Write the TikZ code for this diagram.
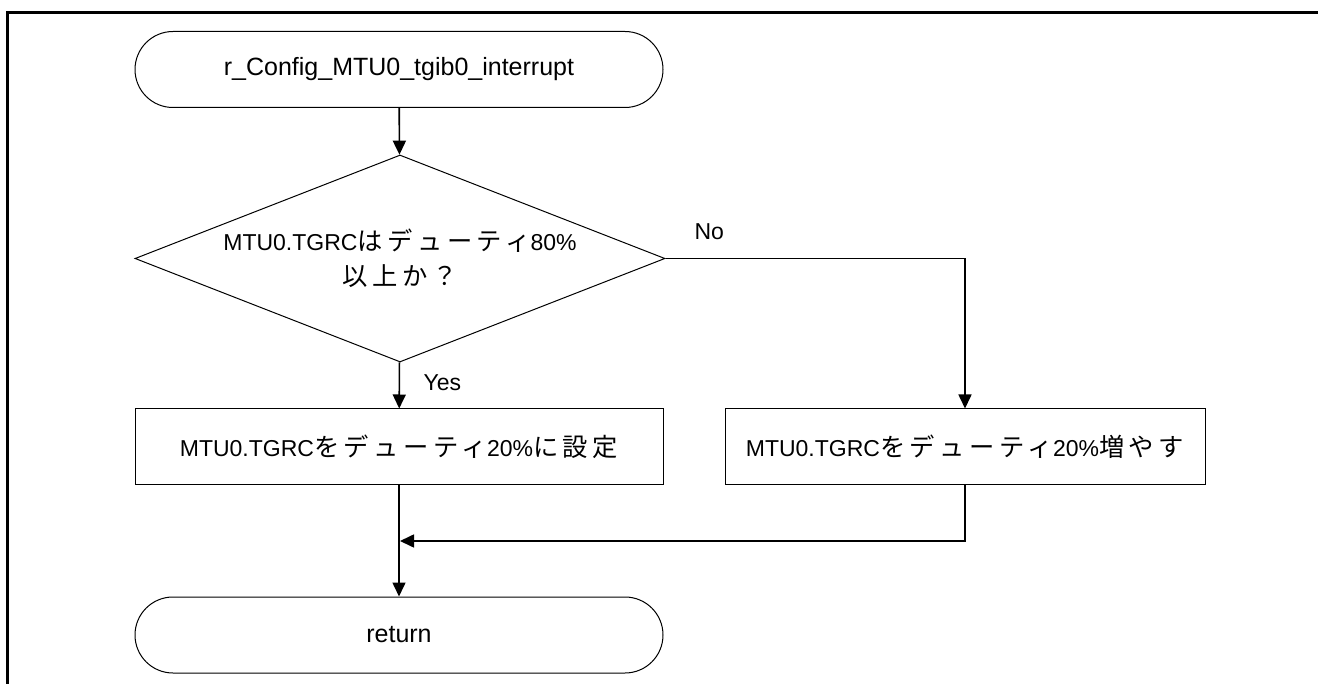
\documentclass[tikz,border=0pt]{standalone}
\usepackage{fontspec}
\setmainfont{Liberation Sans}
\newfontfamily\jp[Scale=1.1, LetterSpace=18]{Noto Sans CJK JP}
\usetikzlibrary{shapes.geometric,arrows.meta}
\tikzset{
  term/.style={draw, line width=1pt, rounded corners=38pt, minimum width=528pt, minimum height=76pt, font=\fontsize{25}{30}\selectfont},
  proc/.style={draw, line width=1pt, minimum height=76pt, font=\fontsize{23}{30}\selectfont},
  decide/.style={draw, diamond, line width=1pt, minimum width=530pt, minimum height=207pt, aspect=2.56, inner sep=0pt},
  flow/.style={line width=1.6pt, -{Triangle[length=14pt,width=13pt]}},
  lbl/.style={font=\fontsize{23}{35}\selectfont}
}

\begin{document}
\begin{tikzpicture}[x=1pt, y=-1pt]
      \useasboundingbox (0, 0) rectangle (1318, 684);
      \draw[line width=2.5pt] (1318, 12.5) -- (7.5, 12.5) -- (7.5, 684);
      \node[term] (start) at (399, 69.5) {r\_Config\_MTU0\_tgib0\_interrupt};
      \node[decide] (dec) at (400, 258.5) {};
      \node[lbl, align=center] (dectxt) at (400, 258.5) {MTU0.TGRC{\jp はデューティ}80\%\\{\jp 以上か？}};
      \node[proc, minimum width=528pt] (set) at (399, 447) {MTU0.TGRC{\jp をデューティ}20\%{\jp に設定}};
      \node[proc, minimum width=480pt] (inc) at (965, 447) {MTU0.TGRC{\jp をデューティ}20\%{\jp 増やす}};
      \node[term] (ret) at (399, 635) {return};
      \coordinate (noturn) at (965, 258.5);
      \coordinate (joinr) at (965, 541);
      \coordinate (joinl) at (400, 541);
      \draw[flow] (start) -- (dec);
      \draw[flow] (dec) -- (set);
      \draw[flow] (dec.east) -- (noturn) -- (inc);
      \draw[flow] (set) -- (ret);
      \draw[flow] (inc) -- (joinr) -- (joinl);
      \node[lbl, anchor=west] (yes) at (420, 383) {Yes};
      \node[lbl, anchor=west] (no) at (691, 232) {No};
    \end{tikzpicture}
\end{document}
